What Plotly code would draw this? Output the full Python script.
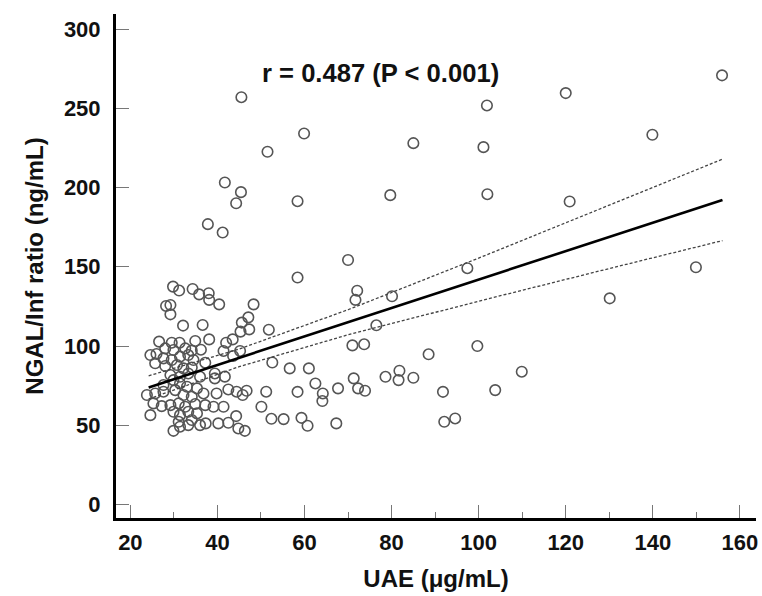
import plotly.graph_objects as go

# Scatter data: UAE (µg/mL) vs NGAL/Inf ratio (ng/mL)
uae = [
    101.9, 59.9, 85.0, 101.1, 51.5, 58.4, 79.7, 102.0, 70.0, 58.4, 97.4, 72.1, 71.7, 80.1, 76.5,
    51.8, 52.6, 71.0, 73.7, 88.5, 99.7, 56.6, 61.0, 51.2, 58.4, 62.5, 64.2, 64.1, 67.7, 71.3,
    72.3, 73.9, 78.6, 81.8, 81.6, 85.0, 91.8, 103.8, 52.4, 55.2, 59.3, 60.7, 67.3, 92.1, 94.6,
    109.9, 120.0, 155.9, 139.9, 120.9, 149.9, 130.1, 41.7, 45.4, 44.3, 37.8, 41.2, 45.5,
    29.8, 31.2, 34.3, 35.8, 38.0, 38.1, 40.4, 48.3, 28.2, 29.2, 29.2, 32.1, 36.6, 47.1, 45.6,
    47.3, 45.3, 38.1, 43.5, 42.0,
    41.4, 45.2, 43.6, 37.2, 39.4, 41.7, 39.4, 36.8, 39.8, 42.5, 44.4, 46.7, 45.8, 50.1, 37.2,
    39.1, 41.4, 40.2, 42.5, 44.3, 44.8, 46.3,
    26.6, 29.5, 31.3, 34.9, 28.0, 29.9, 32.6, 34.1, 36.2, 24.6, 26.0, 27.6, 29.5, 31.4, 33.3,
    34.5, 25.7, 28.0, 30.7, 32.2, 34.1, 29.2, 31.4, 33.3, 36.0, 29.9, 27.6, 31.4, 33.0, 35.3,
    30.3, 23.8, 25.7, 27.6, 32.2, 34.1, 25.3, 27.2, 29.2, 31.1, 32.6, 34.9, 24.6, 29.9, 31.4,
    33.3, 35.3, 31.1, 34.1, 29.9, 31.4, 33.3, 36.0, 37.3,
]
ngal = [
    251.8, 234.1, 228.0, 225.5, 222.6, 191.4, 195.2, 195.8, 154.3, 143.2, 149.1, 134.9, 129.1, 131.4, 113.1,
    110.3, 89.6, 100.4, 101.1, 94.8, 100.0, 85.9, 85.9, 71.2, 71.1, 76.4, 70.1, 65.3, 73.3, 79.6,
    73.3, 71.8, 80.6, 84.4, 78.5, 80.0, 71.1, 72.2, 54.1, 53.9, 54.7, 49.7, 51.2, 52.2, 54.3,
    83.8, 259.6, 270.8, 233.3, 191.2, 149.7, 130.1, 203.2, 197.1, 190.1, 176.9, 171.6, 257.0,
    137.5, 135.0, 136.0, 132.6, 133.3, 129.1, 126.3, 126.3, 125.3, 125.9, 120.0, 112.9, 113.3, 118.1, 114.8,
    110.5, 109.1, 104.2, 104.2, 102.1,
    96.9, 96.9, 93.7, 89.5, 82.7, 80.7, 79.6, 70.1, 70.1, 72.6, 71.2, 71.8, 69.1, 61.7, 62.7,
    61.7, 61.7, 51.2, 51.6, 55.8, 48.0, 46.5,
    102.8, 102.1, 102.1, 103.2, 98.5, 97.5, 98.5, 97.1, 97.7, 94.3, 95.0, 92.2, 91.2, 93.3, 94.3,
    91.2, 89.1, 87.4, 88.0, 85.9, 86.5, 81.7, 80.6, 82.7, 80.6, 78.5, 75.4, 76.4, 74.3, 73.3,
    72.2, 69.1, 70.1, 71.2, 69.1, 68.0, 63.8, 62.1, 62.7, 63.8, 61.7, 63.4, 56.4, 58.5, 56.4,
    58.5, 57.5, 52.2, 53.3, 46.5, 49.1, 50.1, 50.1, 51.2,
]

# Regression line and 95% confidence band
fit_x = [24.2, 45.0, 70.0, 100.0, 130.0, 156.0]
fit_y = [73.9, 92.6, 115.0, 141.9, 168.9, 192.2]
ci_upper = [81.2, 98.1, 122.9, 155.5, 188.9, 217.9]
ci_lower = [66.6, 87.0, 107.1, 128.3, 148.9, 166.5]

x_ticks = [20, 40, 60, 80, 100, 120, 140, 160]
y_ticks = [0, 50, 100, 150, 200, 250, 300]
annotation_text = "r = 0.487 (P < 0.001)"

FONT = "Liberation Sans, Arial, sans-serif"

fig = go.Figure()
fig.add_trace(go.Scatter(
    x=uae, y=ngal, mode="markers",
    marker=dict(symbol="circle", size=10.5, color="rgba(255,255,255,0)",
                line=dict(color="#555555", width=1.6)),
    showlegend=False, hoverinfo="x+y", cliponaxis=False,
))
for ci in (ci_upper, ci_lower):
    fig.add_trace(go.Scatter(
        x=fit_x, y=ci, mode="lines", line=dict(color="#444444", width=1.3, dash="3px,2px"),
        showlegend=False, hoverinfo="skip",
    ))
fig.add_trace(go.Scatter(
    x=fit_x, y=fit_y, mode="lines", line=dict(color="black", width=2.6),
    showlegend=False, hoverinfo="skip",
))

fig.add_annotation(
    x=77.5, y=272.5, xref="x", yref="y", text=annotation_text, showarrow=False,
    font=dict(family=FONT, size=25.6, color="#111111", weight="bold"),
)

fig.update_layout(
    width=762, height=596,
    margin=dict(l=116, r=4, t=14, b=78),
    paper_bgcolor="white", plot_bgcolor="white",
    font=dict(family=FONT, color="#111111"),
)
fig.update_xaxes(
    range=[16.7, 163.7], tickvals=x_ticks, ticktext=[str(v) for v in x_ticks],
    ticks="inside", ticklen=13, tickwidth=1, tickcolor="#777777",
    minor=dict(ticks="inside", ticklen=6, tickwidth=1, tickcolor="#777777", dtick=10, tick0=20),
    showline=True, linewidth=3, linecolor="black", showgrid=False, zeroline=False,
    tickfont=dict(family=FONT, size=22, color="#111111", weight="bold"),
    ticklabelstandoff=3,
    title=dict(text="UAE (μg/mL)", font=dict(family=FONT, size=24, color="#111111", weight="bold"),
               standoff=16),
)
fig.update_yaxes(
    range=[-8.5, 309.5], tickvals=y_ticks, ticktext=[str(v) for v in y_ticks],
    ticks="inside", ticklen=13, tickwidth=1, tickcolor="#777777",
    showline=True, linewidth=3, linecolor="black", showgrid=False, zeroline=False,
    tickfont=dict(family=FONT, size=22, color="#111111", weight="bold"),
    ticklabelstandoff=8,
    title=dict(text="NGAL/Inf ratio (ng/mL)", font=dict(family=FONT, size=24, color="#111111", weight="bold"),
               standoff=14),
)

fig.write_html(
    "out.html",
    config={"displayModeBar": False},
    post_script="document.body.style.margin='0px'; document.body.style.overflow='hidden';",
)
